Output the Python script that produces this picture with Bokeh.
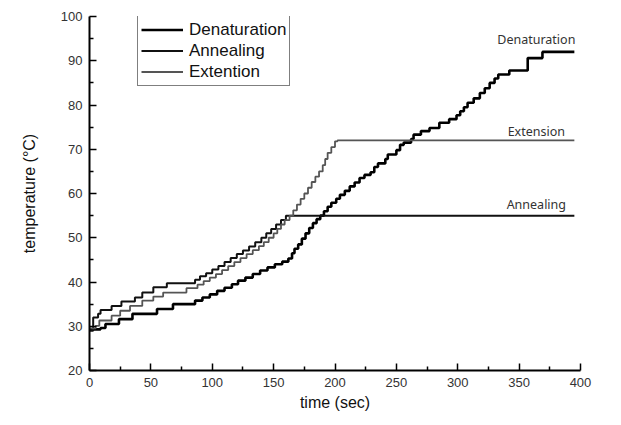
from bokeh.plotting import figure
from bokeh.models import Range1d, FixedTicker, Legend, LegendItem
from bokeh.core.properties import value
from bokeh.embed import file_html
from bokeh.resources import INLINE

# ---- data (time in sec, temperature in degC), step breakpoints ----
den_t = [0, 9, 13, 24, 35, 55, 68, 86, 92, 98, 104, 110, 116, 121, 127, 133, 139, 145, 151, 157,
         162, 165, 167, 170, 173, 176, 179, 182, 185, 188, 191, 194, 197, 201, 204, 208, 212, 216,
         220, 224, 229, 232, 235, 241, 243, 250, 253, 256, 262, 264, 270, 277, 285, 293, 299, 302,
         305, 308, 313, 318, 322, 326, 330, 333, 342, 357, 369, 395]
den_T = [29.3, 29.6, 30.5, 31.6, 32.8, 33.9, 35.0, 35.8, 36.5, 37.2, 38.0, 38.7, 39.5, 40.3, 41.0,
         41.8, 42.6, 43.3, 44.0, 44.6, 45.3, 46.5, 47.5, 48.5, 49.8, 51.0, 52.2, 53.3, 54.2, 55.0,
         56.0, 57.0, 57.9, 58.8, 59.7, 60.6, 61.6, 62.5, 63.5, 64.2, 64.8, 66.0, 66.8, 67.8, 68.8,
         69.8, 71.0, 71.5, 72.3, 73.3, 74.1, 74.8, 76.0, 76.8, 77.7, 78.6, 79.5, 80.5, 81.5, 82.7,
         83.8, 85.0, 86.0, 86.9, 87.8, 90.6, 92.0, 92.0]

ann_t = [0, 3, 7, 9, 18, 26, 37, 43, 52, 63, 86, 90, 95, 100, 105, 110, 115, 120, 125, 130, 135,
         140, 144, 148, 152, 156, 160, 395]
ann_T = [29.0, 32.0, 32.8, 33.7, 34.6, 35.6, 36.5, 37.6, 38.8, 39.7, 40.5, 41.3, 42.0, 42.8, 43.6,
         44.5, 45.4, 46.3, 47.1, 48.0, 49.0, 50.0, 51.0, 52.0, 53.0, 54.0, 55.0, 55.0]

ext_t = [0, 5, 8, 18, 25, 33, 43, 52, 60, 79, 88, 93, 98, 103, 108, 113, 118, 123, 128, 133, 138,
         142, 146, 150, 153, 156, 159, 163, 166, 169, 172, 175, 178, 181, 184, 187, 190, 192, 194,
         197, 200, 202, 395]
ext_T = [29.5, 30.1, 31.3, 32.4, 33.5, 34.6, 35.8, 36.7, 37.6, 38.6, 39.4, 40.2, 41.0, 41.8, 42.7,
         43.6, 44.5, 45.4, 46.3, 47.2, 48.1, 49.0, 50.0, 51.0, 52.0, 53.0, 54.0, 55.0, 56.2, 57.5,
         58.8, 60.0, 61.3, 62.6, 63.8, 65.0, 66.4, 67.8, 69.2, 70.5, 71.8, 72.0, 72.0]

series_names = ["Denaturation", "Annealing", "Extention"]
note_texts = ["Denaturation", "Extension", "Annealing"]
note_t = [364, 364, 364]
note_T = [94.7, 74.1, 57.6]

x_ticks = [0, 50, 100, 150, 200, 250, 300, 350, 400]
x_minor = [25, 75, 125, 175, 225, 275, 325, 375]
y_ticks = [20, 30, 40, 50, 60, 70, 80, 90, 100]
y_minor = [25, 35, 45, 55, 65, 75, 85, 95]

p = figure(width=613, height=417, output_backend="svg", toolbar_location=None,
           x_range=Range1d(0, 400), y_range=Range1d(20, 100),
           min_border_left=89, min_border_right=33, min_border_top=16, min_border_bottom=47)
p.outline_line_color = None
p.grid.visible = False
p.background_fill_color = "white"

r_den = p.step(den_t, den_T, mode="after", line_color="black", line_width=2.6)
r_ann = p.step(ann_t, ann_T, mode="after", line_color="#111111", line_width=2.0)
r_ext = p.step(ext_t, ext_T, mode="after", line_color="#555555", line_width=1.8)

p.text(x=note_t, y=note_T, text=note_texts, text_align="center", text_baseline="middle",
       text_font=value("Noto Sans"), text_font_size="12.5px", text_color="#333333")

for ax, ticks, minor in ((p.xaxis[0], x_ticks, x_minor), (p.yaxis[0], y_ticks, y_minor)):
    ax.ticker = FixedTicker(ticks=ticks, minor_ticks=minor)
    ax.axis_line_width = 2
    ax.axis_line_color = "black"
    ax.major_tick_in = 7
    ax.major_tick_out = 0
    ax.minor_tick_in = 4
    ax.minor_tick_out = 0
    ax.major_tick_line_width = 1.5
    ax.minor_tick_line_width = 1.5
    ax.major_tick_line_color = "black"
    ax.minor_tick_line_color = "black"
    ax.major_label_text_font = "Liberation Sans"
    ax.major_label_text_font_size = "13px"
    ax.major_label_text_color = "#333333"
    ax.major_label_standoff = 7
    ax.axis_label_text_font = "Liberation Sans"
    ax.axis_label_text_font_size = "16px"
    ax.axis_label_text_font_style = "normal"
    ax.axis_label_text_color = "#111111"

p.xaxis.axis_label = "time (sec)"
p.yaxis.axis_label = "temperature (°C)"
p.xaxis.axis_label_standoff = 4
p.yaxis.axis_label_standoff = 20

legend = Legend(items=[LegendItem(label=series_names[0], renderers=[r_den]),
                       LegendItem(label=series_names[1], renderers=[r_ann]),
                       LegendItem(label=series_names[2], renderers=[r_ext])],
                location=(48, 284))
legend.label_text_font = "Liberation Sans"
legend.label_text_font_size = "17px"
legend.label_text_color = "#111111"
legend.glyph_width = 42
legend.glyph_height = 21
legend.label_height = 21
legend.label_standoff = 6
legend.spacing = 0
legend.padding = 3
legend.margin = 0
legend.border_line_color = "black"
legend.border_line_width = 1
legend.background_fill_color = "white"
legend.background_fill_alpha = 1
p.add_layout(legend)

open("out.html", "w").write(file_html(p, INLINE))
